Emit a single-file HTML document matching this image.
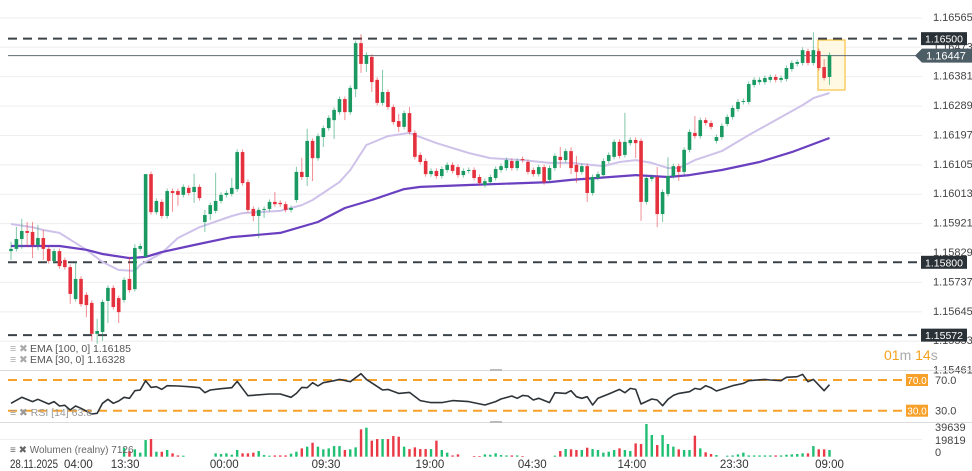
<!DOCTYPE html>
<html><head><meta charset="utf-8">
<style>
html,body{margin:0;padding:0;background:#fff;}
svg{display:block;font-family:"Liberation Sans",sans-serif;}
</style></head>
<body>
<svg id="chart" width="972" height="471" viewBox="0 0 972 471" xmlns="http://www.w3.org/2000/svg">
<g id="grid"></g>
<rect x="818" y="40" width="27" height="50" fill="#fff9e3" stroke="#f6c343" stroke-width="1.2"/>
<g id="yaxis"></g>
<g id="levels"></g>
<g id="ema30"></g>
<g id="ema100"></g>
<g id="candles"></g>
<g id="rsi"></g>
<g id="vol"></g>
<g id="xaxis"></g>
<g font-size="10.5" fill="#555">
<text x="10" y="352" fill="#aaa">≡ ✖</text>
<text x="30" y="352">EMA  [100,  0]  1.16185</text>
<text x="10" y="363" fill="#aaa">≡ ✖</text>
<text x="30" y="363">EMA  [30,  0]  1.16328</text>
</g>
<g font-size="14">
<text x="884" y="360"><tspan fill="#f5a11c">01</tspan><tspan fill="#aaa">m </tspan><tspan fill="#f5a11c">14</tspan><tspan fill="#aaa">s</tspan></text>
</g>
</svg>
<script>
// ===== candle data (price) =====
const opens = [115835,115842,115873,115898,115895,115854,115876,115842,115804,115835,115807,115785,115685,115748,115698,115673,115576,115582,115679,115720,115688,115682,115748,115716,115842,115817,116076,115957,115989,115945,116023,116023,116011,116033,116020,116036,115926,115951,115961,115992,116011,116014,116029,116145,116051,115967,115945,115964,115967,115989,115986,115982,115964,115995,116083,116067,116180,116126,116192,116220,116245,116270,116311,116270,116342,116486,116421,116443,116371,116299,116333,116286,116242,116224,116267,116205,116136,116117,116076,116086,116070,116089,116105,116098,116073,116086,116089,116067,116042,116051,116064,116089,116095,116117,116095,116123,116114,116089,116076,116098,116058,116095,116130,116120,116148,116105,116083,116101,116017,116064,116073,116117,116130,116177,116136,116173,116183,116180,115989,116061,116067,115951,116014,116070,116101,116083,116152,116205,116195,116245,116236,116180,116192,116233,116255,116280,116302,116302,116355,116364,116364,116371,116380,116371,116374,116405,116421,116424,116461,116424,116461,116411,116380];
const closes = [115842,115873,115898,115892,115854,115876,115842,115804,115835,115788,115785,115701,115748,115669,115666,115576,115585,115676,115720,115660,115644,115745,115713,115845,115851,116076,115957,115992,115945,116023,116017,116011,116036,116017,116036,116001,115948,115979,115992,116011,116017,116033,116145,116048,115964,115945,115964,115967,115989,115982,115982,115964,115970,116083,116067,116180,116126,116195,116220,116252,116277,116311,116270,116346,116486,116421,116449,116364,116299,116333,116286,116239,116224,116267,116208,116130,116114,116076,116086,116070,116092,116105,116086,116073,116086,116089,116064,116048,116054,116067,116092,116101,116120,116095,116117,116120,116083,116076,116098,116051,116095,116133,116120,116148,116095,116083,116101,116017,116067,116076,116117,116136,116177,116133,116177,116183,116173,115989,116064,116067,115951,116020,116070,116101,116083,116152,116208,116195,116245,116236,116224,116192,116227,116255,116283,116302,116305,116358,116371,116371,116377,116380,116371,116377,116408,116424,116427,116464,116424,116464,116408,116377,116449];
// wick extensions beyond the body (price units x1e-5)
const wickUp = [22,38,38,28,31,41,25,8,8,8,8,8,53,8,8,8,38,8,8,8,8,8,69,12,8,0,8,8,8,8,8,8,8,8,41,8,16,8,88,8,8,31,9,8,8,8,8,8,8,31,8,8,8,16,44,38,8,8,8,8,8,8,8,8,8,28,8,8,8,69,8,8,22,8,19,8,8,8,8,8,8,8,8,8,8,8,8,8,8,8,8,8,8,8,8,8,8,8,8,8,8,8,31,8,12,28,8,8,8,8,8,8,8,8,91,8,8,8,8,8,31,8,59,8,8,8,8,53,8,8,8,8,8,8,8,8,8,8,8,8,8,8,8,8,8,8,8,9,8,56,8,25,8];
const wickDn = [28,8,31,44,41,16,34,8,8,8,8,31,8,8,38,22,31,28,69,8,34,8,8,8,8,0,8,8,8,8,59,34,8,8,34,8,31,19,8,8,8,8,8,8,8,16,69,25,8,8,8,8,8,8,9,28,72,8,31,8,59,8,25,8,25,28,25,31,8,8,8,8,16,8,8,8,8,8,8,8,8,8,8,8,8,8,8,8,8,8,8,8,8,8,8,8,8,8,8,8,8,8,25,8,19,34,8,28,8,8,8,8,8,8,8,8,47,59,8,8,41,25,8,8,28,8,8,8,8,8,8,8,8,8,8,8,8,8,8,8,8,8,8,8,8,8,8,8,8,8,8,8,25];
// EMA samples: candle index -> price
const ema30Idx = [0,4,6,9,14,17,20,23,24,28,31,35,41,43,50,54,56,61,63,66,70,74,75,79,85,89,95,100,104,110,113,116,119,122,124,127,132,137,142,147,149,152];
const ema30Val = [115920,115910,115901,115892,115839,115801,115776,115773,115792,115829,115876,115910,115945,115954,115961,115979,115995,116051,116089,116167,116195,116205,116198,116173,116142,116126,116120,116111,116111,116101,116114,116120,116111,116095,116095,116120,116148,116198,116245,116292,116314,116330];
const ema100Idx = [0,9,14,17,22,25,28,34,41,50,57,62,67,73,76,85,100,104,116,122,126,132,139,145,152];
const ema100Val = [115851,115851,115839,115826,115813,115817,115832,115854,115879,115892,115926,115970,115995,116029,116036,116042,116051,116058,116073,116067,116073,116089,116114,116145,116189];
// RSI samples
const rsiIdx = [0,2,4,5,7,8,9,10,11,12,13,15,16,17,18,19,20,21,22,23,24,25,26,27,28,29,31,33,35,36,37,39,41,42,44,48,50,52,53,54,55,56,57,58,60,61,63,65,66,69,70,72,74,76,78,80,82,85,88,90,91,93,94,95,96,97,98,100,101,103,104,105,106,107,108,109,111,113,114,115,116,117,119,120,121,122,123,124,126,127,128,129,130,131,134,136,137,140,141,143,144,146,147,148,149,151,152];
const rsiVal = [39.6,47.4,41.8,44.8,38.7,41.8,36.1,37.0,30.9,36.1,33.1,25.7,26.6,39.6,44.8,39.6,42.6,47.4,46.1,56.1,57.0,69.1,60.4,61.3,57.8,62.6,62.2,61.3,60.0,53.5,57.0,58.7,60.0,68.2,49.6,51.7,51.7,47.4,52.6,60.4,60.0,66.5,62.2,66.5,69.1,70.8,67.8,78.2,70.8,57.0,57.8,52.6,53.9,43.1,40.5,40.5,43.1,41.8,37.4,41.8,45.2,49.1,46.1,50.0,49.1,43.9,46.1,40.5,53.5,52.6,56.1,48.3,46.1,48.3,37.4,46.1,51.7,57.8,53.5,59.1,57.8,38.7,45.2,43.9,36.5,44.8,50.0,52.6,54.8,59.1,57.8,62.6,60.0,55.7,62.6,65.6,69.1,70.8,70.0,69.1,73.5,74.3,77.4,67.8,70.8,56.1,63.9];
// Volume (index -> value)
const volIdx = [21,22,23,24,25,26,27,28,29,30,31,32,38,39,40,41,42,43,44,45,46,47,48,49,50,51,52,53,54,55,56,57,58,59,60,61,62,63,64,65,66,67,68,69,70,71,72,73,74,75,76,77,78,79,80,81,82,83,86,87,88,89,90,91,92,93,94,95,101,102,103,104,105,106,107,108,109,110,111,112,113,114,115,116,117,118,119,120,121,122,123,124,125,126,127,128,129,130,131,133,134,135,136,137,138,139,140,141,142,143,144,145,146,147,148,149,150,151,152];
const volVal = [10500,6600,8600,4700,19400,20600,5800,5800,7800,3900,1500,1200,3900,3100,3900,2300,7800,3900,3900,4700,6600,1900,1200,1500,1500,1500,3500,5800,9700,11700,16300,11700,8600,9700,12400,12400,7800,8600,10900,31900,33800,18700,20600,20600,20600,24100,23300,11700,8900,10900,8900,8900,8900,18700,7800,4700,1500,2700,800,800,2700,2300,3900,1900,1500,1500,1500,800,1200,6600,8900,8600,7800,7800,10500,8900,7800,4700,5800,7800,9700,7800,6600,15500,14800,38100,25300,13600,25300,14800,11700,8600,7800,7800,24500,9700,5100,3100,1900,1200,1500,2700,4700,1500,1500,1500,1500,1500,1500,1500,2300,2700,3100,3900,3900,12400,8600,8600,7800];
const priceTicks = ["1.16565","1.16473","1.16381","1.16289","1.16197","1.16105","1.16013","1.15921","1.15829","1.15737","1.15645","1.15553","1.15461"];
const levelPrices = [116500,115800,115572];
const lastPrice = 116447;
const timeLabels = ["28.11.2025","04:00","13:30","00:00","09:30","19:00","04:30","14:00","23:30","09:00"];
const timeLabelIdx = [-1,-1,21.2,39.6,58.5,77.8,96.8,115.3,134.3,152];
const rsiLevels = [70,30];
const volTicks = [39639,19819,0];

// ===== scales =====
const NS='http://www.w3.org/2000/svg';
const xOf = i => 11 + i*5.385;
const yOf = p => (116621 - p)/3.13;
const yRsi = v => 410.7 - (v-30)/1.303;
const yVol = v => 456.7 - v/1166;
function mk(tag, attrs, parent){const e=document.createElementNS(NS,tag);for(const k in attrs)e.setAttribute(k,attrs[k]);parent.appendChild(e);return e;}
const G=id=>document.getElementById(id);

// grid + price axis
priceTicks.forEach(t=>{
  const p=Math.round(parseFloat(t)*100000);
  const y=yOf(p);
  const ln=mk('line',{x1:0,x2:922,y1:y,y2:y,stroke:'#eeeeee','stroke-width':1},G('grid'));
  
  
  const tx=mk('text',{x:933,y:y+3,'font-size':11,fill:'#444'},G('yaxis'));
  tx.textContent=t;
  
  
});

// levels
levelPrices.forEach(p=>{
  const y=yOf(p);
  const ln=mk('line',{x1:8,x2:920,y1:y,y2:y,stroke:'#3c4348','stroke-width':2,'stroke-dasharray':'9 6'},G('levels'));
  
  
  const r=mk('rect',{x:921,y:y-6.5,width:46,height:13,fill:'#2b3237'},G('levels'));
  
  
  const t=mk('text',{x:944,y:y+4,'font-size':10.5,fill:'#fff','text-anchor':'middle'},G('levels'));
  t.textContent=(p/100000).toFixed(5);
  
  
});
{
  const y=yOf(lastPrice);
  const ln=mk('line',{x1:8,x2:920,y1:y,y2:y,stroke:'#5b6b74','stroke-width':1},G('levels'));
  
  
  const tg=mk('path',{d:`M915 ${y} L922 ${y-7} L972 ${y-7} L972 ${y+7} L922 ${y+7} Z`,fill:'#4d5d66'},G('levels'));
  
  
  const t=mk('text',{x:946,y:y+4,'font-size':11,fill:'#fff','text-anchor':'middle'},G('levels'));
  t.textContent=(lastPrice/100000).toFixed(5);
  
  
}

// EMAs
function line(idx,vals,parent,color,w,name){
  const d=idx.map((i,k)=>(k?'L':'M')+xOf(i).toFixed(1)+' '+yOf(vals[k]).toFixed(1)).join(' ');
  const p=mk('path',{d:d,fill:'none',stroke:color,'stroke-width':w,'stroke-linejoin':'round'},parent);
  
  
}
line(ema30Idx,ema30Val,G('ema30'),'#cfc2ea',2,'ema-30-path');
line(ema100Idx,ema100Val,G('ema100'),'#6a3fc0',2.2,'ema-100-path');

// candles
opens.forEach((o,i)=>{
  const c=closes[i], up=c>=o;
  const col=up?'#1a9a62':'#e5313d';
  const x=xOf(i);
  const hi=Math.max(o,c)+wickUp[i], lo=Math.min(o,c)-wickDn[i];
  const w=mk('line',{x1:x,x2:x,y1:yOf(hi),y2:yOf(lo),stroke:col,'stroke-width':1,'stroke-opacity':0.55},G('candles'));
  
  
  const yt=yOf(Math.max(o,c)), yb=yOf(Math.min(o,c));
  const b=mk('rect',{x:x-1.8,y:yt,width:3.6,height:Math.max(1,yb-yt),fill:col},G('candles'));
  
  
});

// RSI panel
mk('line',{x1:0,x2:972,y1:370.5,y2:370.5,stroke:'#dcdcdc'},G('rsi'));
mk('line',{x1:0,x2:972,y1:422.5,y2:422.5,stroke:'#dcdcdc'},G('rsi'));
mk('rect',{x:490,y:369,width:12,height:2,fill:'#bbb'},G('rsi'));
mk('rect',{x:490,y:421,width:12,height:2,fill:'#bbb'},G('rsi'));
rsiLevels.forEach(v=>{
  const y=yRsi(v);
  const l=mk('line',{x1:8,x2:905,y1:y,y2:y,stroke:'#f7a12a','stroke-width':2,'stroke-dasharray':'9 6'},G('rsi'));
  
  
  const r=mk('rect',{x:906,y:y-6,width:22,height:12,fill:'#f7a12a'},G('rsi'));
  
  
  const t=mk('text',{x:917,y:y+4,'font-size':10,fill:'#fff','text-anchor':'middle'},G('rsi'));
  t.textContent=v.toFixed(1);
  
  
  const a=mk('text',{x:935,y:y+4,'font-size':11,fill:'#444'},G('rsi'));
  a.textContent=v.toFixed(1);
  
  
});
{
  const d=rsiIdx.map((i,k)=>(k?'L':'M')+xOf(i).toFixed(1)+' '+yRsi(rsiVal[k]).toFixed(1)).join(' ');
  const p=mk('path',{d:d,fill:'none',stroke:'#2e3338','stroke-width':1.6,'stroke-linejoin':'round'},G('rsi'));
  
  
  const t=mk('text',{x:10,y:416,'font-size':10.5,fill:'#999'},G('rsi'));
  t.textContent='≡ ✖ RSI [14] 63.8';
  
  
}

// Volume panel
mk('line',{x1:0,x2:922,y1:439.5,y2:439.5,stroke:'#f0f0f0'},G('vol'));
volIdx.forEach((i,k)=>{
  const up=closes[i]>=opens[i];
  const y=yVol(volVal[k]);
  const r=mk('rect',{x:xOf(i)-1.2,y:y,width:2.4,height:456.7-y,fill:up?'#1fbf74':'#ea3a45'},G('vol'));
  
  
});
volTicks.forEach((v,k)=>{
  const t=mk('text',{x:935,y:[431,444,456][k],'font-size':11,fill:'#444'},G('vol'));
  t.textContent=String(v);
  
  
});
{
  const t=mk('text',{x:10,y:453,'font-size':10,fill:'#666'},G('vol'));
  t.textContent='≡ ✖ Wolumen (realny) 7126';
  
  
}

// time axis
timeLabels.forEach((s,k)=>{
  let t;
  if(k===0){
    t=mk('text',{x:10,y:468,'font-size':11.5,fill:'#333',textLength:48,lengthAdjust:'spacingAndGlyphs'},G('xaxis'));
  } else if(k===1){
    t=mk('text',{x:64,y:468,'font-size':11.5,fill:'#333'},G('xaxis'));
  } else {
    t=mk('text',{x:xOf(timeLabelIdx[k]),y:468,'font-size':11.5,fill:'#333','text-anchor':'middle'},G('xaxis'));
  }
  t.textContent=s;
  
  
});
</script>
</body></html>
